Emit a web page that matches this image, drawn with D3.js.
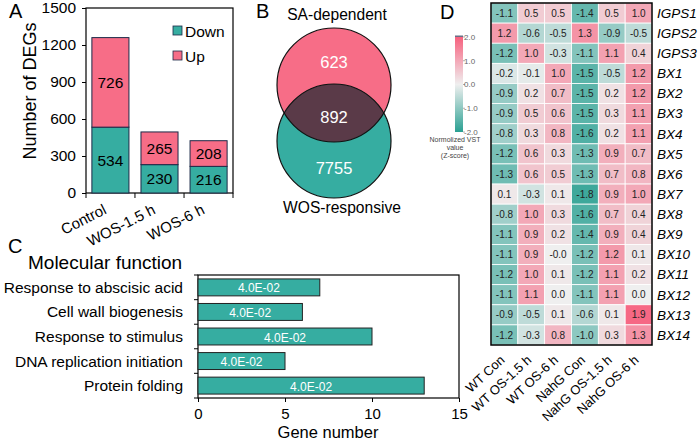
<!DOCTYPE html>
<html>
<head>
<meta charset="utf-8">
<script src="https://cdn.jsdelivr.net/npm/d3@7"></script>
<style>
  body { margin: 0; background: #fff; }
  svg { font-family: "Liberation Sans", Arial, sans-serif; }
</style>
</head>
<body>
<svg id="fig" width="700" height="442"></svg>
<script>
// Panel A data
const groups = ["Control", "WOS-1.5 h", "WOS-6 h"];
const downCounts = [534, 230, 216];
const upCounts = [726, 265, 208];
const degTicks = [0, 300, 600, 900, 1200, 1500];

// Panel B data
const vennLabels = ["SA-dependent", "WOS-responsive"];
const vennCounts = [623, 892, 7755];

// Panel C data
const functions = ["Response to abscisic acid", "Cell wall biogenesis", "Response to stimulus",
  "DNA replication initiation", "Protein folding"];
const geneNumbers = [7, 6, 10, 5, 13];
const pValues = ["4.0E-02", "4.0E-02", "4.0E-02", "4.0E-02", "4.0E-02"];
const geneTicks = [0, 5, 10, 15];

// Panel D data
const samples = ["WT Con", "WT OS-1.5 h", "WT OS-6 h", "NahG Con", "NahG OS-1.5 h", "NahG OS-6 h"];
const genes = ["IGPS1", "IGPS2", "IGPS3", "BX1", "BX2", "BX3", "BX4", "BX5", "BX6", "BX7",
  "BX8", "BX9", "BX10", "BX11", "BX12", "BX13", "BX14"];
const zscores = [
  [-1.1, 0.5, 0.5, -1.4, 0.5, 1.0],
  [1.2, -0.6, -0.5, 1.3, -0.9, -0.5],
  [-1.2, 1.0, -0.3, -1.1, 1.1, 0.4],
  [-0.2, -0.1, 1.0, -1.5, -0.5, 1.2],
  [-0.9, 0.2, 0.7, -1.5, 0.2, 1.2],
  [-0.9, 0.5, 0.6, -1.5, 0.3, 1.1],
  [-0.8, 0.3, 0.8, -1.6, 0.2, 1.1],
  [-1.2, 0.6, 0.3, -1.3, 0.9, 0.7],
  [-1.3, 0.6, 0.5, -1.3, 0.7, 0.8],
  [0.1, -0.3, 0.1, -1.8, 0.9, 1.0],
  [-0.8, 1.0, 0.3, -1.6, 0.7, 0.4],
  [-1.1, 0.9, 0.2, -1.4, 0.9, 0.4],
  [-1.1, 0.9, -0.0, -1.2, 1.2, 0.1],
  [-1.2, 1.0, 0.1, -1.2, 1.1, 0.2],
  [-1.1, 1.1, 0.0, -1.1, 1.1, 0.0],
  [-0.9, -0.5, 0.1, -0.6, 0.1, 1.9],
  [-1.2, -0.3, 0.8, -1.0, 0.3, 1.3]
];
const barTicks = [2, 1, 0, -1, -2];

const teal = "#36ada1";
const pink = "#f76d87";
const svg = d3.select("#fig");

function panelLetter(t, x, y) {
  svg.append("text").attr("x", x).attr("y", y).attr("font-size", 20).text(t);
}

// ---------- A: stacked bars ----------
{
  const x = d3.scaleBand().domain(groups).range([86, 233]).paddingInner(0.245).paddingOuter(0.12);
  const y = d3.scaleLinear().domain([0, 1500]).range([193, 8]);
  const g = svg.append("g");

  g.append("rect").attr("x", 86).attr("y", 8).attr("width", 147).attr("height", 185)
    .attr("fill", "none").attr("stroke", "#000").attr("stroke-width", 1.2);

  const ya = g.append("g").attr("transform", "translate(86,0)")
    .call(d3.axisLeft(y).tickValues(degTicks).tickFormat(d3.format("d")).tickSize(4).tickPadding(6).tickSizeOuter(0));
  ya.select(".domain").remove();
  ya.selectAll("text").attr("font-size", 15.5).attr("font-family", "Liberation Sans").attr("fill", "#000");

  // bottom ticks between groups
  const edges = groups.map(d => x(d) - x.step() * x.paddingInner() / 2);
  edges[0] = 86; edges.push(233);
  g.selectAll("line.xt").data(edges).join("line")
    .attr("x1", d => d).attr("x2", d => d).attr("y1", 193).attr("y2", 198)
    .attr("stroke", "#000");

  groups.forEach((grp, i) => {
    const segs = [
      { y0: 0, y1: downCounts[i], c: teal, v: downCounts[i] },
      { y0: downCounts[i], y1: downCounts[i] + upCounts[i], c: pink, v: upCounts[i] }
    ];
    segs.forEach(s => {
      g.append("rect").attr("x", x(grp)).attr("width", x.bandwidth())
        .attr("y", y(s.y1)).attr("height", y(s.y0) - y(s.y1))
        .attr("fill", s.c).attr("stroke", "#1c2a48").attr("stroke-width", 1);
      g.append("text").attr("x", x(grp) + x.bandwidth() / 2).attr("y", (y(s.y0) + y(s.y1)) / 2 + 5.5)
        .attr("text-anchor", "middle").attr("font-size", 15.5).text(s.v);
    });
    g.append("text")
      .attr("transform", `translate(${x(grp) + x.bandwidth() / 2 - 3},${213}) rotate(-27)`)
      .attr("text-anchor", "end").attr("font-size", 15).text(grp);
  });

  // legend
  [["Down", teal], ["Up", pink]].forEach(([lab, c], i) => {
    g.append("rect").attr("x", 173).attr("y", 26 + i * 25).attr("width", 9).attr("height", 9)
      .attr("fill", c).attr("stroke", "#1c2a48").attr("stroke-width", 0.8);
    g.append("text").attr("x", 185).attr("y", 36.5 + i * 25).attr("font-size", 15.5).text(lab);
  });

  g.append("text").attr("transform", "translate(36,91) rotate(-90)")
    .attr("text-anchor", "middle").attr("font-size", 18).text("Number of DEGs");
  panelLetter("A", 9, 18);
}

// ---------- B: Venn ----------
{
  const g = svg.append("g");
  const cy = d3.scaleOrdinal().domain(vennLabels).range([85, 141]);
  const r = 57, cx = 334;
  const clipId = "vclip";
  g.append("clipPath").attr("id", clipId).append("circle")
    .attr("cx", cx).attr("cy", cy(vennLabels[0])).attr("r", r);
  g.append("circle").attr("cx", cx).attr("cy", cy(vennLabels[0])).attr("r", r).attr("fill", pink);
  g.append("circle").attr("cx", cx).attr("cy", cy(vennLabels[1])).attr("r", r).attr("fill", teal);
  g.append("circle").attr("cx", cx).attr("cy", cy(vennLabels[1])).attr("r", r)
    .attr("fill", "#5a3a48").attr("clip-path", `url(#${clipId})`);
  vennLabels.forEach(l => {
    g.append("circle").attr("cx", cx).attr("cy", cy(l)).attr("r", r)
      .attr("fill", "none").attr("stroke", "#111").attr("stroke-width", 1.2);
  });
  const ty = [62, 117, 168];
  vennCounts.forEach((v, i) => {
    g.append("text").attr("x", cx).attr("y", ty[i] + 6).attr("text-anchor", "middle")
      .attr("font-size", 16.5).attr("fill", "#fff").text(v);
  });
  g.append("text").attr("x", 337).attr("y", 20).attr("text-anchor", "middle")
    .attr("font-size", 15.6).text(vennLabels[0]);
  g.append("text").attr("x", 342).attr("y", 213).attr("text-anchor", "middle")
    .attr("font-size", 15.6).text(vennLabels[1]);
  panelLetter("B", 256, 18);
}

// ---------- C: horizontal bars ----------
{
  const g = svg.append("g");
  const x = d3.scaleLinear().domain([0, 15]).range([198, 459]);
  const y = d3.scaleBand().domain(functions).range([275, 398]).paddingInner(0.31).paddingOuter(0.16);

  g.append("rect").attr("x", 198).attr("y", 275).attr("width", 261).attr("height", 123)
    .attr("fill", "none").attr("stroke", "#000").attr("stroke-width", 1.2);

  const xa = g.append("g").attr("transform", "translate(0,398)")
    .call(d3.axisBottom(x).tickValues(geneTicks).tickSize(4).tickPadding(6.5).tickSizeOuter(0));
  xa.select(".domain").remove();
  xa.selectAll("text").attr("font-size", 15).attr("font-family", "Liberation Sans").attr("fill", "#000");

  const edges = functions.map(d => y(d) - y.step() * y.paddingInner() / 2);
  edges[0] = 275; edges.push(398);
  g.selectAll("line.yt").data(edges).join("line")
    .attr("x1", 194).attr("x2", 198).attr("y1", d => d).attr("y2", d => d).attr("stroke", "#000");

  functions.forEach((f, i) => {
    g.append("rect").attr("x", x(0)).attr("y", y(f)).attr("width", x(geneNumbers[i]) - x(0))
      .attr("height", y.bandwidth()).attr("fill", teal).attr("stroke", "#222").attr("stroke-width", 1);
    g.append("text").attr("x", (x(0) + x(geneNumbers[i])) / 2).attr("y", y(f) + y.bandwidth() / 2 + 5)
      .attr("text-anchor", "middle").attr("font-size", 12).attr("fill", "#fff").text(pValues[i]);
    g.append("text").attr("x", 183).attr("y", y(f) + y.bandwidth() / 2 + 5.5)
      .attr("text-anchor", "end").attr("font-size", 15.5).text(f);
  });

  g.append("text").attr("x", 328).attr("y", 438).attr("text-anchor", "middle")
    .attr("font-size", 16.5).text("Gene number");
  g.append("text").attr("x", 28).attr("y", 269).attr("font-size", 19).text("Molecular function");
  panelLetter("C", 8, 253);
}

// ---------- D: heatmap ----------
{
  const g = svg.append("g");
  const x = d3.scaleBand().domain(samples).range([491, 652]);
  const y = d3.scaleBand().domain(genes).range([3, 345]);
  const color = d3.scaleLinear().domain([-2, 0, 2]).range(["#2aa092", "#efefef", "#f6617e"]);
  const fmt = v => Object.is(v, -0) ? "-0.0" : v.toFixed(1);

  genes.forEach((gene, r) => {
    samples.forEach((s, c) => {
      const v = zscores[r][c];
      g.append("rect").attr("x", x(s)).attr("y", y(gene)).attr("width", x.bandwidth())
        .attr("height", y.bandwidth()).attr("fill", color(v))
        .attr("stroke", "#fff").attr("stroke-width", 0.8);
      g.append("text").attr("x", x(s) + x.bandwidth() / 2).attr("y", y(gene) + y.bandwidth() / 2 + 3.6)
        .attr("text-anchor", "middle").attr("font-size", 10).attr("fill", "#222").text(fmt(v));
    });
    g.append("text").attr("x", 657).attr("y", y(gene) + y.bandwidth() / 2 + 4.8)
      .attr("font-size", 13.5).attr("font-style", "italic").text(gene);
  });
  g.append("rect").attr("x", 491).attr("y", 3).attr("width", 161).attr("height", 342)
    .attr("fill", "none").attr("stroke", "#000").attr("stroke-width", 1.5);

  samples.forEach(s => {
    g.append("text")
      .attr("transform", `translate(${x(s) + x.bandwidth() / 2 + 1},${361}) rotate(-43)`)
      .attr("text-anchor", "end").attr("font-size", 13).text(s);
  });

  // colour bar
  const cb = d3.scaleLinear().domain([-2, 2]).range([132, 37]);
  const grad = svg.append("defs").append("linearGradient").attr("id", "cbg")
    .attr("x1", 0).attr("x2", 0).attr("y1", 1).attr("y2", 0);
  [-2, -1, 0, 1, 2].forEach(v => {
    grad.append("stop").attr("offset", (v + 2) / 4).attr("stop-color", color(v));
  });
  g.append("rect").attr("x", 455).attr("y", cb(2)).attr("width", 8).attr("height", cb(-2) - cb(2))
    .attr("fill", "url(#cbg)");
  g.append("rect").attr("x", 455).attr("y", cb(2) - 1.5).attr("width", 8).attr("height", 1.5)
    .attr("fill", "#6b6f86");
  barTicks.forEach(v => {
    g.append("line").attr("x1", 463).attr("x2", 465).attr("y1", cb(v)).attr("y2", cb(v))
      .attr("stroke", "#777").attr("stroke-width", 0.6);
    g.append("text").attr("x", 464).attr("y", cb(v) + 2.8).attr("font-size", 8)
      .attr("fill", "#666").text(v.toFixed(1));
  });
  ["Normolized  VST", "value", "(Z-score)"].forEach((t, i) => {
    g.append("text").attr("x", 455).attr("y", 142 + i * 8).attr("text-anchor", "middle")
      .attr("font-size", 7).attr("fill", "#444").text(t);
  });
  panelLetter("D", 440, 19);
}
</script>
</body>
</html>
